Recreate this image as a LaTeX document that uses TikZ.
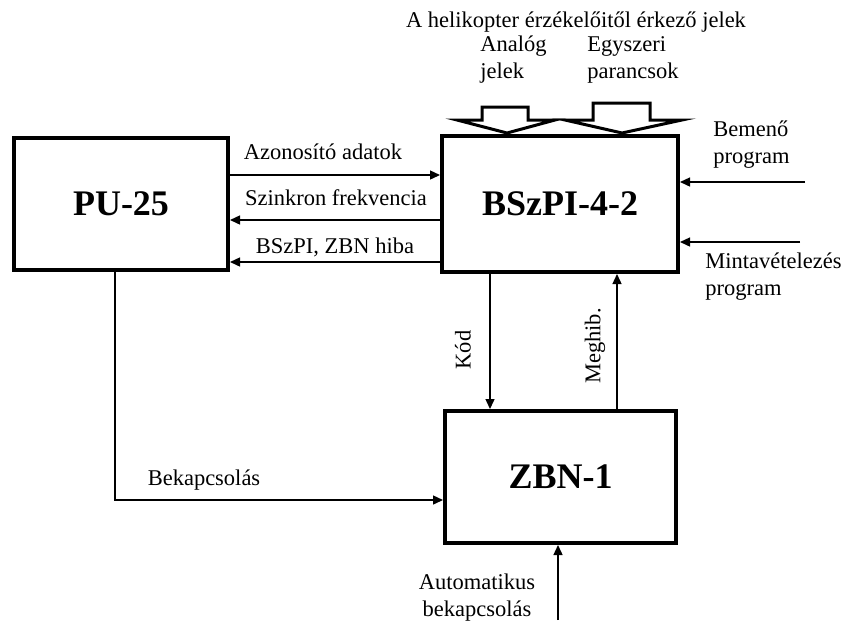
\documentclass[tikz,border=0pt]{standalone}
\usepackage{fontspec}
\setmainfont{Liberation Serif}
\usetikzlibrary{arrows.meta}

\begin{document}
\begin{tikzpicture}[x=0.5pt,y=-0.5pt,
    box/.style={draw,line width=2pt,inner sep=0pt,font=\fontsize{18}{20}\selectfont\bfseries},
    lbl/.style={font=\fontsize{11.25}{13.5}\selectfont,inner sep=0pt},
    sig/.style={line width=0.7pt,-{Triangle[length=5pt,width=4.5pt]}},
    fat/.style={line width=1.5pt,fill=white}]
        \useasboundingbox (0,0) rectangle (845,628);
        % Blokkok
        \node[box,minimum width=107pt,minimum height=66pt] (pu) at (121,204) {PU-25};
        \node[box,minimum width=118pt,minimum height=68pt] (bs) at (560,204) {BSzPI-4-2};
        \node[box,minimum width=115.5pt,minimum height=66pt] (zbn) at (560.5,477) {ZBN-1};
        % Felirat es vastag nyilak fent
        \node[lbl] (title) at (576,22) {A helikopter érzékelőitől érkező jelek};
        \node[lbl,anchor=west,align=left] (analog) at (480,60) {Analóg\\jelek};
        \node[lbl,anchor=west,align=left] (egysz) at (587,60) {Egyszeri\\parancsok};
        \draw[fat] (482,107) -- (528,107) -- (528,120) -- (555,120) -- (507,133)
                   -- (457,120) -- (482,120) -- cycle;
        \draw[fat] (593,103) -- (650,103) -- (650,120) -- (682,120) -- (622,133)
                   -- (565,120) -- (593,120) -- cycle;
        % PU-25 <-> BSzPI-4-2
        \draw[sig] (pu.east |- 0,175) -- (bs.west |- 0,175);
        \draw[sig] (bs.west |- 0,220) -- (pu.east |- 0,220);
        \draw[sig] (bs.west |- 0,262) -- (pu.east |- 0,262);
        \node[lbl] (azon) at (323,152) {Azonosító adatok};
        \node[lbl] (szink) at (336,198) {Szinkron frekvencia};
        \node[lbl] (hiba) at (335,247) {BSzPI, ZBN hiba};
        % Bemenetek jobbrol
        \coordinate (bp) at (805,182);
        \coordinate (mp) at (800,242);
        \draw[sig] (bp) -- (bs.east |- bp);
        \draw[sig] (mp) -- (bs.east |- mp);
        \node[lbl,anchor=west,align=left] (bemeno) at (713,145) {Bemenő\\program};
        \node[lbl,anchor=west,align=left] (minta) at (705,277) {Mintavételezés\\program};
        % BSzPI-4-2 <-> ZBN-1
        \draw[sig] (bs.south -| 490,0) -- (zbn.north -| 490,0);
        \draw[sig] (zbn.north -| 617,0) -- (bs.south -| 617,0);
        \node[lbl,rotate=90] (kod) at (463,350) {Kód};
        \node[lbl,rotate=90] (meghib) at (595,346) {Meghib.};
        % Bekapcsolas
        \draw[sig] (pu.south -| 115,0) |- (zbn.west |- 0,500);
        \node[lbl] (bekap) at (204,480) {Bekapcsolás};
        \coordinate (ab) at (558,620);
        \draw[sig] (ab) -- (zbn.south -| ab);
        \node[lbl,align=center] (auto) at (477,598) {Automatikus\\bekapcsolás};
\end{tikzpicture}
\end{document}
